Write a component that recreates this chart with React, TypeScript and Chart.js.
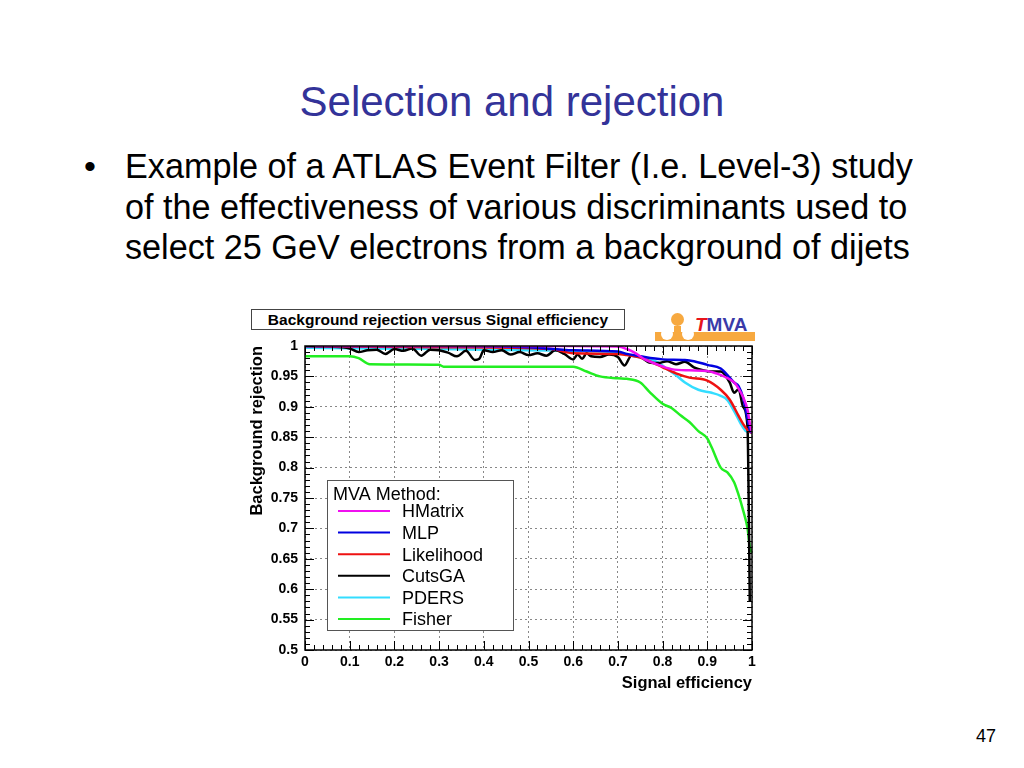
import React, { useEffect, useRef } from "react";
import { Chart, registerables } from "chart.js";

Chart.register(...registerables);

// ---- data ----
const methodNames = ["HMatrix", "MLP", "Likelihood", "CutsGA", "PDERS", "Fisher"];
const methodColors = ["#f010f0", "#0000e0", "#ee1111", "#000000", "#33ddff", "#22ee22"];

const hmatrixEff = [0, 0.3, 0.6, 0.7, 0.72, 0.74, 0.76, 0.78, 0.82, 0.86, 0.9, 0.92, 0.94, 0.96, 0.97, 0.98, 0.99, 0.995, 1.0];
const hmatrixRej = [1.0, 1.0, 1.0, 0.999, 0.995, 0.988, 0.978, 0.972, 0.962, 0.96, 0.959, 0.955, 0.949, 0.94, 0.93, 0.916, 0.895, 0.873, 0.857];

const mlpEff = [0, 0.3, 0.5, 0.6, 0.7, 0.72, 0.75, 0.8, 0.85, 0.87, 0.9, 0.93, 0.95, 0.96, 0.97, 0.98, 0.99, 0.995, 1.0];
const mlpRej = [1.0, 1.0, 0.998, 0.993, 0.991, 0.987, 0.983, 0.978, 0.977, 0.975, 0.969, 0.963, 0.948, 0.94, 0.934, 0.915, 0.88, 0.862, 0.857];

const likelihoodEff = [0, 0.3, 0.55, 0.6, 0.7, 0.72, 0.75, 0.78, 0.8, 0.83, 0.86, 0.9, 0.93, 0.95, 0.97, 0.98, 0.99, 1.0];
const likelihoodRej = [1.0, 0.998, 0.995, 0.988, 0.987, 0.985, 0.981, 0.972, 0.965, 0.955, 0.948, 0.943, 0.928, 0.912, 0.885, 0.872, 0.862, 0.857];

const cutsgaEff = [0, 0.05, 0.1, 0.12, 0.14, 0.16, 0.18, 0.2, 0.22, 0.24, 0.26, 0.28, 0.3, 0.32, 0.34, 0.36, 0.38, 0.39, 0.4, 0.42, 0.44, 0.46, 0.48, 0.5, 0.52, 0.54, 0.56, 0.58, 0.6, 0.61, 0.62, 0.63, 0.64, 0.66, 0.68, 0.7, 0.715, 0.73, 0.75, 0.77, 0.79, 0.81, 0.83, 0.85, 0.87, 0.89, 0.91, 0.93, 0.95, 0.96, 0.97, 0.98, 0.99, 0.993, 0.995];
const cutsgaRej = [1.0, 0.999, 0.996, 0.99, 0.993, 0.994, 0.987, 0.995, 0.992, 0.996, 0.984, 0.994, 0.993, 0.989, 0.983, 0.992, 0.977, 0.979, 0.993, 0.99, 0.993, 0.986, 0.99, 0.985, 0.988, 0.984, 0.993, 0.987, 0.978, 0.986, 0.979, 0.988, 0.983, 0.982, 0.986, 0.982, 0.968, 0.984, 0.982, 0.973, 0.972, 0.975, 0.97, 0.974, 0.965, 0.96, 0.958, 0.958, 0.94, 0.923, 0.929, 0.9, 0.867, 0.72, 0.58];

const pdersEff = [0, 0.3, 0.6, 0.7, 0.72, 0.75, 0.79, 0.81, 0.83, 0.85, 0.88, 0.91, 0.93, 0.945, 0.96, 0.975, 0.985, 0.995];
const pdersRej = [0.997, 0.995, 0.992, 0.99, 0.986, 0.981, 0.973, 0.962, 0.952, 0.94, 0.928, 0.923, 0.918, 0.911, 0.893, 0.872, 0.861, 0.857];

const fisherEff = [0, 0.1, 0.12, 0.145, 0.3, 0.31, 0.6, 0.63, 0.66, 0.7, 0.72, 0.75, 0.77, 0.8, 0.82, 0.84, 0.86, 0.88, 0.9, 0.91, 0.93, 0.945, 0.96, 0.97, 0.98, 0.99, 0.995, 1.0];
const fisherRej = [0.983, 0.983, 0.98, 0.97, 0.969, 0.966, 0.966, 0.958, 0.95, 0.947, 0.946, 0.94, 0.925, 0.905, 0.898, 0.886, 0.875, 0.86, 0.848, 0.833, 0.8, 0.792, 0.776, 0.755, 0.73, 0.7, 0.67, 0.66];

const seriesEff = [hmatrixEff, mlpEff, likelihoodEff, cutsgaEff, pdersEff, fisherEff];
const seriesRej = [hmatrixRej, mlpRej, likelihoodRej, cutsgaRej, pdersRej, fisherRej];

const xMin = 0, xMax = 1, xStep = 0.1, xMinorStep = 0.02;
const yMin = 0.5, yMax = 1, yStep = 0.05, yMinorStep = 0.01;

const FONT = "'Liberation Sans', Arial, Helvetica, sans-serif";

const rootStyle = {
  id: "rootStyle",
  afterDatasetsDraw(chart: any) {
    const { ctx, chartArea: a, scales } = chart;
    const xs = scales.x, ys = scales.y;
    ctx.save();
    ctx.strokeStyle = "#000";
    ctx.lineWidth = 1;
    const nx = Math.round((xMax - xMin) / xMinorStep);
    const perMajorX = Math.round(xStep / xMinorStep);
    for (let i = 0; i <= nx; i++) {
      const px = Math.round(xs.getPixelForValue(xMin + i * xMinorStep)) + 0.5;
      const len = i % perMajorX === 0 ? 9 : 5;
      ctx.beginPath();
      ctx.moveTo(px, a.bottom);
      ctx.lineTo(px, a.bottom - len);
      ctx.moveTo(px, a.top);
      ctx.lineTo(px, a.top + len);
      ctx.stroke();
    }
    const ny = Math.round((yMax - yMin) / yMinorStep);
    const perMajorY = Math.round(yStep / yMinorStep);
    for (let i = 0; i <= ny; i++) {
      const py = Math.round(ys.getPixelForValue(yMin + i * yMinorStep)) + 0.5;
      const len = i % perMajorY === 0 ? 9 : 5;
      ctx.beginPath();
      ctx.moveTo(a.left, py);
      ctx.lineTo(a.left + len, py);
      ctx.moveTo(a.right, py);
      ctx.lineTo(a.right - len, py);
      ctx.stroke();
    }
    ctx.lineWidth = 1.5;
    ctx.strokeRect(a.left, a.top, a.right - a.left, a.bottom - a.top);

    // legend box (ROOT TLegend style)
    const bx = a.left + 22, by = a.bottom - 170, bw = 186, bh = 150;
    ctx.fillStyle = "#fff";
    ctx.fillRect(bx, by, bw, bh);
    ctx.strokeStyle = "#555";
    ctx.lineWidth = 1;
    ctx.strokeRect(bx + 0.5, by + 0.5, bw, bh);
    ctx.fillStyle = "#000";
    ctx.font = `18px ${FONT}`;
    ctx.textBaseline = "alphabetic";
    ctx.textAlign = "left";
    ctx.fillText("MVA Method:", bx + 6, by + 20);
    chart.data.datasets.forEach((ds: any, i: number) => {
      const ly = by + 31 + i * 21.6;
      ctx.strokeStyle = ds.borderColor;
      ctx.lineWidth = 2;
      ctx.beginPath();
      ctx.moveTo(bx + 11, ly);
      ctx.lineTo(bx + 63, ly);
      ctx.stroke();
      ctx.fillStyle = "#000";
      ctx.textBaseline = "middle";
      ctx.fillText(ds.label, bx + 75, ly + 1.5);
    });
    ctx.restore();
  },
};

function RocChart() {
  const ref = useRef<HTMLCanvasElement | null>(null);
  useEffect(() => {
    if (!ref.current) return;
    const datasets = methodNames.map((name, i) => ({
      label: name,
      data: seriesEff[i].map((x, j) => ({ x, y: seriesRej[i][j] })),
      borderColor: methodColors[i],
      backgroundColor: methodColors[i],
      borderWidth: 2.5,
      pointRadius: 0,
      cubicInterpolationMode: "monotone" as const,
      fill: false,
      order: i,
    }));
    const chart = new Chart(ref.current, {
      type: "line",
      data: { datasets },
      options: {
        animation: false,
        responsive: false,
        devicePixelRatio: 1,
        layout: { padding: { left: 0, top: 46, right: 8, bottom: 0 } },
        plugins: { legend: { display: false }, tooltip: { enabled: false }, title: { display: false } },
        scales: {
          x: {
            type: "linear",
            min: xMin,
            max: xMax,
            ticks: {
              stepSize: xStep,
              padding: 4,
              color: "#000",
              font: { family: FONT, size: 14, weight: "bold" },
              maxRotation: 0,
              callback: (v: any) => String(Math.round(Number(v) * 100) / 100),
            },
            grid: { color: "#888", lineWidth: 1, drawTicks: false },
            border: { display: false, dash: [2, 3] },
            title: {
              display: true,
              text: "Signal efficiency",
              align: "end",
              color: "#000",
              font: { family: FONT, size: 16.5, weight: "bold" },
              padding: { top: 0, bottom: 7 },
            },
            afterFit: (s: any) => { s.height = 50; },
          },
          y: {
            type: "linear",
            min: yMin,
            max: yMax,
            ticks: {
              stepSize: yStep,
              padding: 7,
              color: "#000",
              font: { family: FONT, size: 14, weight: "bold" },
              callback: (v: any) => String(Math.round(Number(v) * 100) / 100),
            },
            grid: { color: "#888", lineWidth: 1, drawTicks: false },
            border: { display: false, dash: [2, 3] },
            title: {
              display: true,
              text: "Background rejection",
              align: "end",
              color: "#000",
              font: { family: FONT, size: 16.5, weight: "bold" },
              padding: { top: 8, bottom: 0 },
            },
            afterFit: (s: any) => { s.width = 65; },
          },
        },
      },
      plugins: [rootStyle],
    });
    return () => chart.destroy();
  }, []);
  return (
    <canvas
      ref={ref}
      width={520}
      height={400}
      style={{ position: "absolute", left: 240, top: 300, width: 520, height: 400 }}
    />
  );
}

const bulletLines = [
  "Example of a ATLAS Event Filter (I.e. Level-3) study",
  "of the effectiveness of various discriminants used to",
  "select 25 GeV electrons from a background of dijets",
];

export default function App() {
  return (
    <div
      style={{
        position: "absolute",
        left: 0,
        top: 0,
        width: 1024,
        height: 768,
        background: "#fff",
        fontFamily: FONT,
        overflow: "hidden",
      }}
    >
      <div
        style={{
          position: "absolute",
          left: 0,
          top: 81,
          width: 1024,
          textAlign: "center",
          fontSize: 42,
          lineHeight: "42px",
          color: "#333399",
        }}
      >
        Selection and rejection
      </div>
      <div style={{ position: "absolute", left: 84, top: 146, fontSize: 34, lineHeight: "40.5px", color: "#000" }}>•</div>
      <div
        style={{
          position: "absolute",
          left: 125,
          top: 146,
          fontSize: 34.2,
          lineHeight: "40.5px",
          color: "#000",
          whiteSpace: "nowrap",
        }}
      >
        {bulletLines.map((l, i) => (
          <div key={i}>{l}</div>
        ))}
      </div>

      {/* chart title box */}
      <div
        style={{
          position: "absolute",
          left: 251,
          top: 309,
          width: 374,
          height: 21,
          boxSizing: "border-box",
          border: "1px solid #444",
          background: "#fff",
          fontSize: 15.5,
          fontWeight: "bold",
          lineHeight: "19px",
          textAlign: "center",
          color: "#000",
          whiteSpace: "nowrap",
        }}
      >
        Background rejection versus Signal efficiency
      </div>

      {/* TMVA logo */}
      <div style={{ position: "absolute", left: 655, top: 332, width: 100, height: 9, background: "#f7a940" }} />
      <div style={{ position: "absolute", left: 671, top: 313, width: 13, height: 13, borderRadius: 7, background: "#f7a940" }} />
      <div style={{ position: "absolute", left: 674, top: 326, width: 7, height: 8, background: "#f7a940" }} />
      <div style={{ position: "absolute", left: 661, top: 328, width: 12, height: 12, borderRadius: 6, background: "#fff" }} />
      <div style={{ position: "absolute", left: 682, top: 328, width: 12, height: 12, borderRadius: 6, background: "#fff" }} />
      <div
        style={{
          position: "absolute",
          left: 695,
          top: 315,
          fontSize: 19,
          lineHeight: "19px",
          fontWeight: "bold",
          color: "#3a3aa8",
        }}
      >
        <span style={{ color: "#e8141b", fontStyle: "italic" }}>T</span>MVA
      </div>

      <RocChart />

      <div
        style={{
          position: "absolute",
          right: 28,
          top: 727,
          fontSize: 18,
          lineHeight: "18px",
          color: "#000",
        }}
      >
        47
      </div>
    </div>
  );
}
